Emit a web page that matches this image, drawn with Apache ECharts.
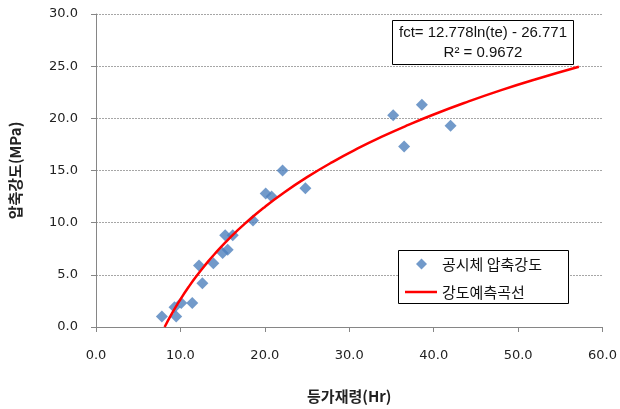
<!DOCTYPE html>
<html>
<head>
<meta charset="utf-8">
<script src="https://cdn.jsdelivr.net/npm/echarts@6/dist/echarts.min.js"></script>
<style>
html,body{margin:0;padding:0;background:#fff;}
#chart{width:620px;height:409px;}
</style>
</head>
<body>
<div id="chart"></div>
<script>
// Measured specimens (equivalent age in hours, compressive strength in MPa)
const specimenAge = [7.8, 9.3, 9.5, 10.1, 11.4, 12.2, 12.6, 13.9, 15.0, 15.6, 15.3, 16.2, 18.6, 20.1, 20.8, 22.1, 24.8, 35.2, 36.5, 38.6, 42.0];
const specimenStrength = [1.0, 1.9, 1.0, 2.3, 2.3, 5.9, 4.2, 6.1, 7.1, 7.4, 8.8, 8.8, 10.2, 12.8, 12.5, 15.0, 13.3, 20.3, 17.3, 21.3, 19.3];
// Prediction curve points
const curveAge = [8.13, 9, 10, 11, 12, 13, 14, 16, 18, 20, 22, 25, 28, 31, 34, 37, 40, 44, 48, 52, 57.2];
const curveStrength = [0.0, 1.31, 2.65, 3.87, 4.98, 6.00, 6.95, 8.66, 10.16, 11.51, 12.73, 14.36, 15.81, 17.11, 18.29, 19.37, 20.37, 21.58, 22.70, 23.72, 24.94];
const seriesNames = ['공시체 압축강도', '강도예측곡선'];
const xAxisTitle = '등가재령(Hr)';
const yAxisTitle = '압축강도(MPa)';
const equationLines = ['fct= 12.778ln(te) - 26.771', 'R² = 0.9672'];

const chart = echarts.init(document.getElementById('chart'), null, {renderer: 'canvas'});
const labelFont = 'DejaVu Sans';
const legendText = {fontFamily: 'Noto Sans CJK KR', fontSize: 15, color: '#111', lineHeight: 16};
const option = {
  animation: false,
  backgroundColor: '#fff',
  grid: {left: 88, right: 16, top: 14, bottom: 74, containLabel: false},
  xAxis: {
    type: 'value', min: 0, max: 60, interval: 10,
    name: xAxisTitle, nameLocation: 'middle', nameGap: 62,
    nameTextStyle: {fontFamily: 'Noto Sans CJK KR', fontWeight: 'bold', fontSize: 15, color: '#222'},
    axisLine: {show: true, lineStyle: {color: '#868686', width: 1}},
    axisTick: {show: true, length: 5, lineStyle: {color: '#868686'}},
    axisLabel: {margin: 22, fontFamily: labelFont, fontSize: 13, color: '#222', formatter: v => v.toFixed(1)},
    splitLine: {show: false}
  },
  yAxis: {
    type: 'value', min: 0, max: 30, interval: 5,
    name: yAxisTitle, nameLocation: 'middle', nameGap: 73, nameRotate: 90,
    nameTextStyle: {fontFamily: 'Noto Sans CJK KR', fontWeight: 'bold', fontSize: 15, color: '#222'},
    axisLine: {show: true, lineStyle: {color: '#868686', width: 1}},
    axisTick: {show: true, length: 5, lineStyle: {color: '#868686'}},
    axisLabel: {margin: 18, fontFamily: labelFont, fontSize: 13, color: '#222', formatter: v => v.toFixed(1)},
    splitLine: {show: true, lineStyle: {color: '#a6a6a6', type: [2, 1], width: 1}}
  },
  legend: [
    {
      orient: 'vertical', left: 416, top: 256, padding: 0,
      itemWidth: 11, itemHeight: 11,
      textStyle: Object.assign({padding: [0, 0, 0, 10]}, legendText),
      data: [{name: seriesNames[0], icon: 'diamond'}], z: 6
    },
    {
      orient: 'vertical', left: 405, top: 284, padding: 0,
      itemWidth: 32, itemHeight: 2.5,
      textStyle: legendText,
      data: [{name: seriesNames[1], icon: 'rect'}], z: 6
    }
  ],
  series: [
    {
      name: seriesNames[0], type: 'scatter', symbol: 'diamond', symbolSize: 12,
      itemStyle: {color: '#4F81BD'},
      data: specimenAge.map((a, i) => [a, specimenStrength[i]]),
      z: 3
    },
    {
      name: seriesNames[1], type: 'line', smooth: true, showSymbol: false, symbol: 'none',
      lineStyle: {color: '#FF0000', width: 2.5},
      itemStyle: {color: '#FF0000'},
      data: curveAge.map((a, i) => [a, curveStrength[i]]),
      z: 4
    }
  ],
  graphic: [
    {type: 'rect', shape: {x: 398.5, y: 250.5, width: 170, height: 53},
     style: {fill: '#fff', stroke: '#000', lineWidth: 1}, z: 5},
    {type: 'rect', shape: {x: 392.5, y: 20.5, width: 181, height: 44},
     style: {fill: '#fff', stroke: '#000', lineWidth: 1}, z: 10},
    {type: 'text', z: 11,
     style: {text: equationLines.join('\n'), x: 483, y: 23, align: 'center', verticalAlign: 'top',
             font: '15px "Liberation Sans"', lineHeight: 20, fill: '#111'}}
  ]
};
chart.setOption(option);
</script>
</body>
</html>
